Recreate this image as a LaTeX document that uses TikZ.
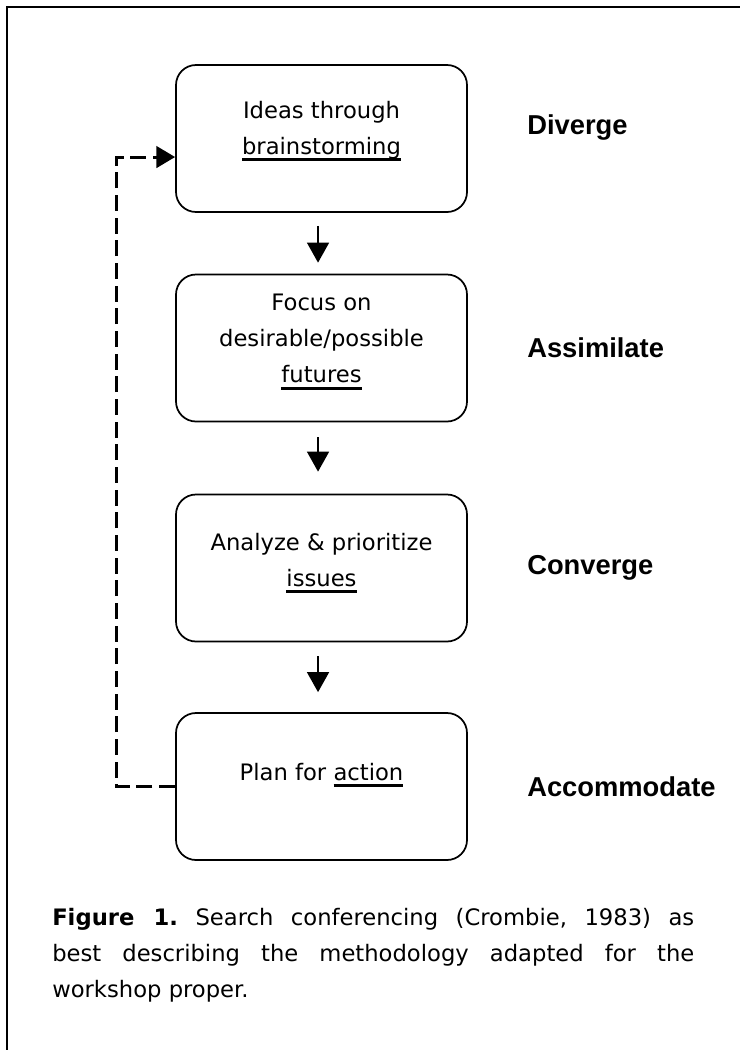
\documentclass[tikz,border=0pt]{standalone}
\usepackage{fontspec}
\setmainfont{DejaVu Sans}
\newfontfamily\phasefont{Liberation Sans}
\usetikzlibrary{arrows.meta}
\frenchspacing

\newsavebox{\ulbox}
\newcommand{\thickul}[1]{\sbox{\ulbox}{#1}\rlap{\rule[-5.2pt]{\wd\ulbox}{2.2pt}}\usebox{\ulbox}}

\tikzset{
  stagebox/.style={draw, line width=1.3pt, rounded corners=15pt,
    minimum width=218.25pt, minimum height=110.25pt, inner sep=0pt},
  boxtext/.style={align=center, inner sep=0pt, font=\fontsize{17}{27}\selectfont},
  phase/.style={anchor=west, inner sep=0pt,
    font=\phasefont\bfseries\fontsize{20.5}{24}\selectfont},
  flow/.style={-{Triangle[length=15pt,width=16.5pt]}, line width=1.1pt},
  feedback/.style={-{Triangle[length=14pt,width=16pt]}, line width=2.3pt,
    dash pattern=on 12pt off 5pt},
  caption/.style={anchor=north west, inner sep=0pt, text width=481.5pt,
    align=justify, font=\fontsize{17}{27}\selectfont},
}

\begin{document}
\begin{tikzpicture}[x=0.75pt,y=-0.75pt]
  \useasboundingbox (0,0) rectangle (740,1050);
  % frame
  \draw[line width=1.5pt] (7,1050) -- (7,7) -- (740,7);

  % stages
  \node[stagebox] (ideas) at (321.5,138.5) {};
  \node[stagebox] (focus) at (321.5,348) {};
  \node[stagebox] (analyze) at (321.5,568) {};
  \node[stagebox] (plan) at (321.5,786.5) {};

  \node[boxtext] (ideastext) at (321.5,131) {Ideas through\\\thickul{brainstorming}};
  \node[boxtext] (focustext) at (321.5,342) {Focus on\\desirable/possible\\\thickul{futures}};
  \node[boxtext] (analyzetext) at (321.5,563) {Analyze \& prioritize\\\thickul{issues}};
  \node[boxtext] (plantext) at (321.5,775) {Plan for \thickul{action}};

  % phases
  \node[phase] (diverge) at (527,127) {Diverge};
  \node[phase] (assimilate) at (527,348) {Assimilate};
  \node[phase] (converge) at (527,568) {Converge};
  \node[phase] (accommodate) at (527,787) {Accommodate};

  % arrows
  \draw[flow, shorten <=9.75pt, shorten >=8.25pt] ([xshift=-2.6pt]ideas.south) -- ([xshift=-2.6pt]focus.north);
  \draw[flow, shorten <=11.25pt, shorten >=16.5pt] ([xshift=-2.6pt]focus.south) -- ([xshift=-2.6pt]analyze.north);
  \draw[flow, shorten <=10.5pt, shorten >=15pt] ([xshift=-2.6pt]analyze.south) -- ([xshift=-2.6pt]plan.north);

  % feedback loop
  \coordinate (loopend) at ([yshift=-13.9pt]ideas.west);
  \draw[feedback] (plan.west) -- ++(-59,0) |- (loopend);

  % caption
  \node[caption] (figcaption) at (52,908) {\textbf{Figure 1.} Search conferencing (Crombie, 1983) as\linebreak
    best describing the methodology adapted for the\linebreak
    workshop proper.};
\end{tikzpicture}
\end{document}
